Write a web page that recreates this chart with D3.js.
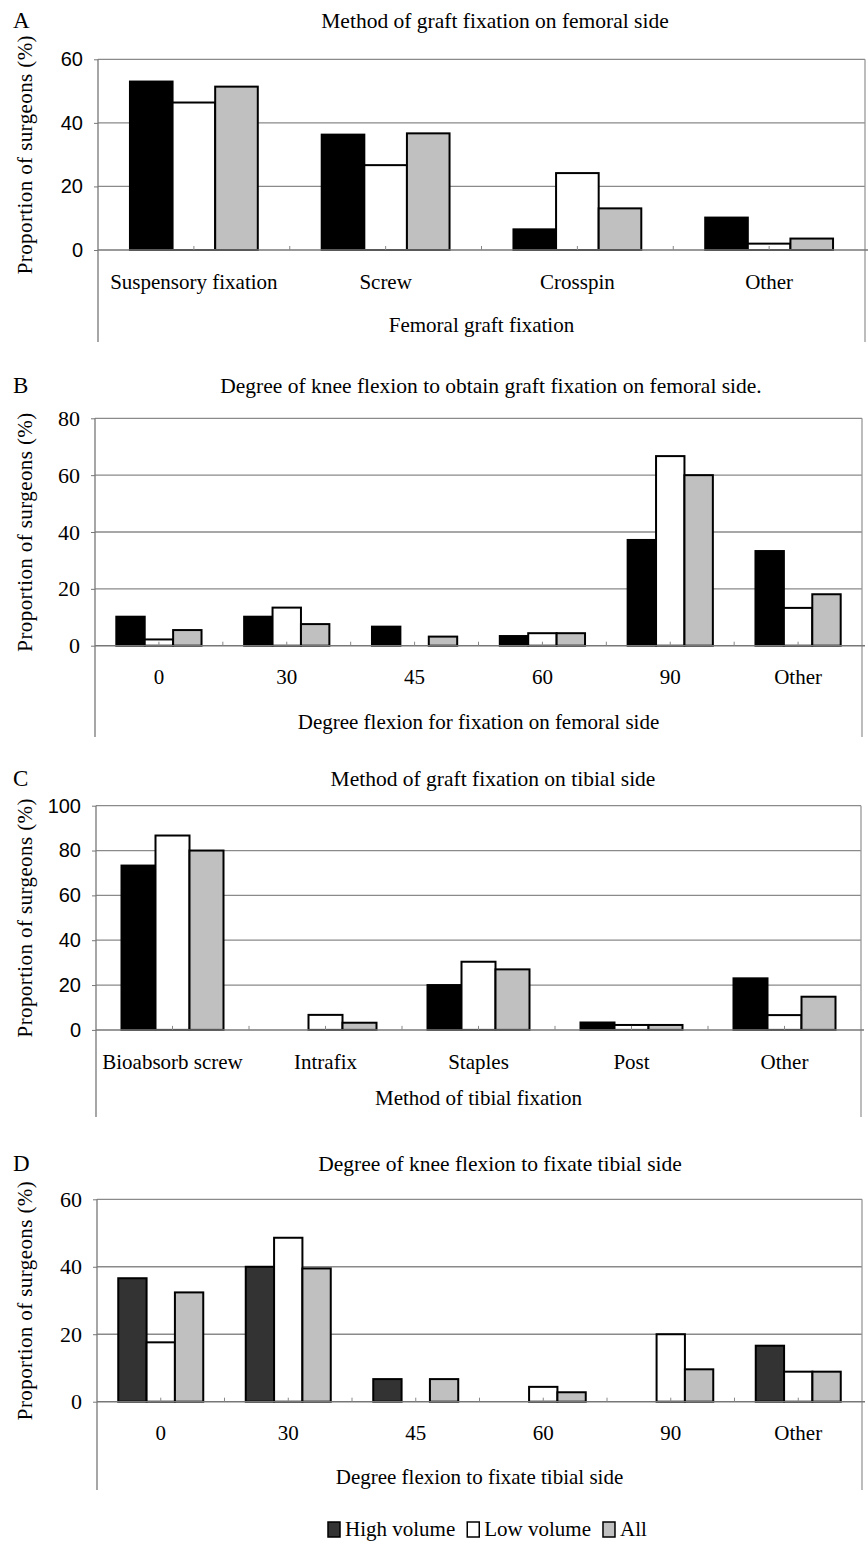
<!DOCTYPE html>
<html>
<head>
<meta charset="utf-8">
<script src="https://cdn.jsdelivr.net/npm/d3@7"></script>
<style>
  body { margin: 0; background: #fff; }
  svg { display: block; }
  .serif { font-family: "Liberation Serif", "Times New Roman", Times, "DejaVu Serif", serif; }
  .sans { font-family: "Liberation Sans", Arial, Helvetica, sans-serif; }
</style>
</head>
<body>
<svg id="chart" width="868" height="1541"></svg>
<script>
// Survey series
const series = ["High volume", "Low volume", "All"];

// A: method of graft fixation on femoral side
const catsA = ["Suspensory fixation", "Screw", "Crosspin", "Other"];
const highA = [53.0, 36.3, 6.5, 10.2];
const lowA  = [46.4, 26.7, 24.2, 2.0];
const allA  = [51.4, 36.7, 13.1, 3.6];
const ticksA = [0, 20, 40, 60];

// B: degree of knee flexion for femoral fixation
const catsB = ["0", "30", "45", "60", "90", "Other"];
const highB = [10.2, 10.2, 6.7, 3.4, 37.2, 33.3];
const lowB  = [2.2, 13.4, 0, 4.4, 66.7, 13.3];
const allB  = [5.5, 7.6, 3.2, 4.4, 60.0, 18.1];
const ticksB = [0, 20, 40, 60, 80];

// C: method of graft fixation on tibial side
const catsC = ["Bioabsorb screw", "Intrafix", "Staples", "Post", "Other"];
const highC = [73.3, 0, 20.0, 3.3, 23.0];
const lowC  = [86.7, 6.7, 30.4, 2.2, 6.6];
const allC  = [80.0, 3.2, 27.0, 2.2, 14.8];
const ticksC = [0, 20, 40, 60, 80, 100];

// D: degree of knee flexion to fixate tibial side
const catsD = ["0", "30", "45", "60", "90", "Other"];
const highD = [36.6, 40.0, 6.7, 0, 0, 16.6];
const lowD  = [17.6, 48.6, 0, 4.4, 20.0, 8.9];
const allD  = [32.4, 39.5, 6.7, 2.8, 9.6, 8.9];
const ticksD = [0, 20, 40, 60];

const yLabel = "Proportion of surgeons (%)";

const GRID = "#8a8a8a";

const panels = [
  { letter: "A", title: "Method of graft fixation on femoral side", xTitle: "Femoral graft fixation",
    cats: catsA, values: [highA, lowA, allA], ticks: ticksA, tickFont: "sans", highColor: "#000",
    left: 98, right: 865, top: 59.3, zero: 250, titleX: 495, titleY: 20, catY: 281.7, xTitleY: 325, frameBottom: 342 },
  { letter: "B", title: "Degree of knee flexion to obtain graft fixation on femoral side.", xTitle: "Degree flexion for fixation on femoral side",
    cats: catsB, values: [highB, lowB, allB], ticks: ticksB, tickFont: "serif", highColor: "#000",
    left: 95, right: 862, top: 418.3, zero: 645.7, titleX: 491, titleY: 385, catY: 676.7, xTitleY: 721.7, frameBottom: 737 },
  { letter: "C", title: "Method of graft fixation on tibial side", xTitle: "Method of tibial fixation",
    cats: catsC, values: [highC, lowC, allC], ticks: ticksC, tickFont: "sans", highColor: "#000",
    left: 96, right: 861, top: 805.7, zero: 1029.9, titleX: 493, titleY: 778, catY: 1061.7, xTitleY: 1098, frameBottom: 1117 },
  { letter: "D", title: "Degree of knee flexion to fixate tibial side", xTitle: "Degree flexion to fixate tibial side",
    cats: catsD, values: [highD, lowD, allD], ticks: ticksD, tickFont: "serif", highColor: "#333",
    left: 97, right: 862, top: 1199.3, zero: 1401.7, titleX: 500, titleY: 1163, catY: 1433, xTitleY: 1476.7, frameBottom: 1490 }
];

const svg = d3.select("#chart");

panels.forEach(p => {
  const g = svg.append("g");
  const x = d3.scaleBand().domain(p.cats).range([p.left, p.right]).paddingInner(0).paddingOuter(0);
  const xs = d3.scaleBand().domain(series).range([0, x.bandwidth()]).paddingInner(0).paddingOuter(0.75);
  const yMax = d3.max(p.ticks);
  const y = d3.scaleLinear().domain([0, yMax]).range([p.zero, p.top]);
  const fills = [p.highColor, "#fff", "#c0c0c0"];

  // panel letter and title
  g.append("text").attr("class", "serif").attr("x", 13).attr("y", p.titleY).attr("dy", "0.35em")
    .attr("font-size", 23).text(p.letter);
  g.append("text").attr("class", "serif").attr("x", p.titleX).attr("y", p.titleY).attr("dy", "0.35em")
    .attr("text-anchor", "middle").attr("font-size", 21.5).text(p.title);

  // horizontal gridlines (top one closes the plot area)
  g.selectAll("line.grid").data(p.ticks.filter(t => t > 0)).join("line")
    .attr("x1", p.left).attr("x2", p.right)
    .attr("y1", d => y(d)).attr("y2", d => y(d))
    .attr("stroke", GRID).attr("stroke-width", 1.3);

  // left and right frame lines
  g.append("line").attr("x1", p.left).attr("x2", p.left).attr("y1", y(yMax)).attr("y2", p.frameBottom)
    .attr("stroke", "#777").attr("stroke-width", 1.3);
  g.append("line").attr("x1", p.right).attr("x2", p.right).attr("y1", y(yMax)).attr("y2", p.frameBottom)
    .attr("stroke", "#999").attr("stroke-width", 1.3);

  // bars
  series.forEach((s, si) => {
    g.selectAll("rect.s" + si).data(p.cats.map((c, i) => ({ c, v: p.values[si][i] })).filter(d => d.v > 0))
      .join("rect")
      .attr("x", d => x(d.c) + xs(s))
      .attr("width", xs.bandwidth())
      .attr("y", d => y(d.v))
      .attr("height", d => y(0) - y(d.v))
      .attr("fill", fills[si])
      .attr("stroke", "#000").attr("stroke-width", 2);
  });

  // category axis line
  g.append("line").attr("x1", p.left).attr("x2", p.right + 3).attr("y1", y(0)).attr("y2", y(0))
    .attr("stroke", "#777").attr("stroke-width", 1.5);

  // small upward ticks at category edges and centres
  const tickPos = [];
  p.cats.forEach((c, i) => {
    if (i > 0) tickPos.push(x(c));
    tickPos.push(x(c) + x.bandwidth() / 2);
  });
  g.selectAll("line.xt").data(tickPos).join("line")
    .attr("x1", d => d).attr("x2", d => d)
    .attr("y1", y(0)).attr("y2", y(0) - 4)
    .attr("stroke", "#888").attr("stroke-width", 1);

  // category labels
  g.selectAll("text.cat").data(p.cats).join("text").attr("class", "serif")
    .attr("x", d => x(d) + x.bandwidth() / 2).attr("y", p.catY).attr("dy", "0.35em")
    .attr("text-anchor", "middle").attr("font-size", 21).text(d => d);

  // category axis title
  g.append("text").attr("class", "serif").attr("x", (p.left + p.right) / 2).attr("y", p.xTitleY).attr("dy", "0.35em")
    .attr("text-anchor", "middle").attr("font-size", 21).text(p.xTitle);

  // value axis
  const ya = g.append("g").attr("transform", `translate(${p.left},0)`)
    .call(d3.axisLeft(y).tickValues(p.ticks).tickFormat(d3.format("d")).tickSize(4).tickSizeOuter(0).tickPadding(11));
  ya.attr("font-family", null).attr("font-size", null);
  ya.select(".domain").remove();
  ya.selectAll(".tick line").attr("stroke", "#777");
  ya.selectAll(".tick text").attr("class", p.tickFont)
    .attr("font-size", p.tickFont === "sans" ? 20 : 22).attr("fill", "#000");

  // value axis title
  g.append("text").attr("class", "serif")
    .attr("transform", `translate(25,${(p.top + p.zero) / 2}) rotate(-90)`)
    .attr("dy", "0.35em").attr("text-anchor", "middle")
    .attr("font-size", 21).attr("letter-spacing", 0.4).text(yLabel);
});

// legend
const legendFills = ["#333", "#fff", "#c0c0c0"];
const lg = svg.append("g");
let lx = 328;
series.forEach((s, i) => {
  lg.append("rect").attr("x", lx).attr("y", 1522).attr("width", 12).attr("height", 15)
    .attr("fill", legendFills[i]).attr("stroke", "#000").attr("stroke-width", 1.5);
  const t = lg.append("text").attr("class", "serif").attr("x", lx + 17).attr("y", 1528.5).attr("dy", "0.35em")
    .attr("font-size", 21).text(s);
  lx += 17 + t.node().getComputedTextLength() + 12;
});
</script>
</body>
</html>
